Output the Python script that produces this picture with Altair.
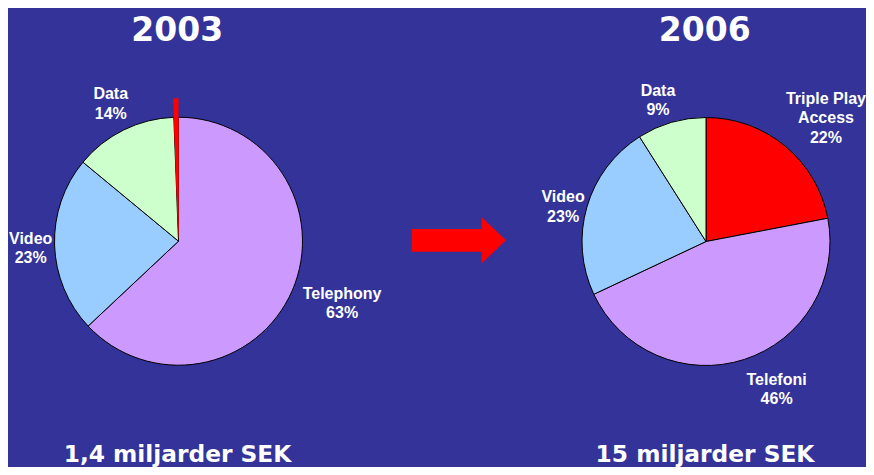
import altair as alt
import pandas as pd

# ---- data ----
years = ["2003", "2006"]
kinds_2003 = ["Telephony", "Video", "Data", "Triple Play Access"]
values_2003 = [63, 23, 13.4, 0.6]
labels_2003 = ["Telephony\n63%", "Video\n23%", "Data\n14%", ""]
kinds_2006 = ["Triple Play Access", "Telefoni", "Video", "Data"]
values_2006 = [22, 46, 23, 9]
labels_2006 = ["Triple Play\nAccess\n22%", "Telefoni\n46%", "Video\n23%", "Data\n9%"]
totals = ["1,4 miljarder SEK", "15 miljarder SEK"]

rows = []
for y, ks, vs, ls in [("2003", kinds_2003, values_2003, labels_2003),
                      ("2006", kinds_2006, values_2006, labels_2006)]:
    for i, (k, v, l) in enumerate(zip(ks, vs, ls)):
        rows.append({"year": y, "kind": k, "value": v, "label": l, "idx": i,
                     "key": f"{y}|{k}"})
df = pd.DataFrame(rows)
head = pd.DataFrame({"year": years, "title": years, "total": totals})

# ---- style ----
BG = "#333399"
color_domain = ["Telephony", "Telefoni", "Video", "Data", "Triple Play Access"]
color_range = ["#CC99FF", "#CC99FF", "#99CCFF", "#CCFFCC", "#FF0000"]
centers = {"2003": (170.5, 233.2), "2006": (698.0, 233.5)}
R = 124
R_SLIVER = 143
LH = 19.5
# label angle tweak (deg) and label radius
label_style = pd.DataFrame({
    "key": ["2003|Data", "2003|Video", "2003|Telephony",
            "2006|Data", "2006|Triple Play Access", "2006|Video", "2006|Telefoni"],
    "dang": [0, -1, -2.6, -2.6, 4.6, -2.6, -7.5],
    "lr": [153, 148, 175, 149, 172, 147, 164],
})

color = alt.Color("kind:N", scale=alt.Scale(domain=color_domain, range=color_range), legend=None)
sliver_test = "datum.kind == 'Triple Play Access' && datum.year == '2003'"

layers = []
for y in years:
    cx, cy = centers[y]
    base = alt.Chart(df).transform_filter(f"datum.year == '{y}'")
    pie = base.mark_arc(stroke="black").encode(
        theta=alt.Theta("value:Q", stack=True),
        order=alt.Order("idx:Q"),
        color=color,
        radius=alt.value(R),
        strokeWidth=alt.condition(sliver_test, alt.value(0), alt.value(1)),
        x=alt.value(cx), y=alt.value(cy),
    )
    layers.append(pie)
    if y == "2003":
        sliver = base.mark_arc(strokeWidth=0).encode(
            theta=alt.Theta("value:Q", stack=True),
            order=alt.Order("idx:Q"),
            color=color,
            radius=alt.value(R_SLIVER),
            opacity=alt.condition(sliver_test, alt.value(1), alt.value(0)),
            x=alt.value(cx), y=alt.value(cy),
        )
        layers.append(sliver)
    labels = base.transform_window(
        cum="sum(value)", sort=[alt.SortField("idx")], frame=[None, 0]
    ).transform_joinaggregate(total="sum(value)").transform_lookup(
        lookup="key", from_=alt.LookupData(label_style, "key", ["dang", "lr"])
    ).transform_calculate(
        ang="(datum.cum - datum.value/2)/datum.total*2*PI + datum.dang*PI/180",
        nl="length(split(datum.label, '\\n'))",
    ).transform_calculate(
        lx=f"{cx} + datum.lr*sin(datum.ang)",
        ly=f"{cy} - datum.lr*cos(datum.ang) - (datum.nl - 1)*{LH}/2",
    ).transform_filter("datum.label != ''").mark_text(
        font="Liberation Sans", fontWeight="bold", fontSize=16, color="white",
        lineBreak="\n", lineHeight=LH, align="center", baseline="middle",
    ).encode(
        x=alt.X("lx:Q", scale=None, axis=None),
        y=alt.Y("ly:Q", scale=None, axis=None),
        text="label:N",
    )
    hb = alt.Chart(head).transform_filter(f"datum.year == '{y}'")
    title = hb.mark_text(font="DejaVu Sans", fontWeight="bold", fontSize=33,
                         color="white", align="center", baseline="middle").encode(
        x=alt.value(cx - 1.3), y=alt.value(22.5), text="title:N")
    total = hb.mark_text(font="DejaVu Sans", fontWeight="bold", fontSize=23.3,
                         color="white", align="center", baseline="middle").encode(
        x=alt.value(cx - 1), y=alt.value(447), text="total:N")
    layers += [labels, title, total]

arrow_path = "M -1 -0.241 L 0.484 -0.241 L 0.484 -0.488 L 1 0 L 0.484 0.488 L 0.484 0.241 L -1 0.241 Z"
arrow = alt.Chart(pd.DataFrame({"arrow": [0]})).mark_point(
    shape=arrow_path, filled=True, color="#FF0000", opacity=1, size=8892, strokeWidth=0
).encode(x=alt.value(450.9), y=alt.value(232.3))
layers.append(arrow)

chart = alt.layer(*layers).properties(
    width=858, height=459, autosize="none", padding=0, background=BG
).configure_view(stroke=None)

chart.save("out.html", embed_options={"renderer": "svg", "actions": False})
